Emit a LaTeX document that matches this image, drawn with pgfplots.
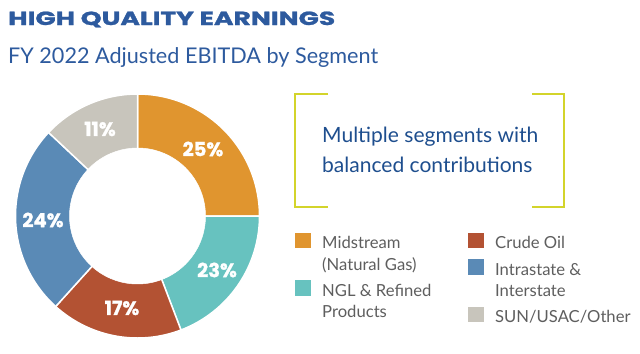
\documentclass[border=0pt]{standalone}
\usepackage{fontspec}
\setmainfont{Lato}
\newfontfamily\titlefont{Poppins}[BoldFeatures={FakeBold=1.2}]
\usepackage{graphicx}
\usepackage{pgfplots}
\pgfplotsset{compat=1.18}
\usepackage{pgfplotstable}

\definecolor{cMid}{HTML}{E0952F}
\definecolor{cNGL}{HTML}{67C2BF}
\definecolor{cCrude}{HTML}{B35233}
\definecolor{cIntra}{HTML}{5A8AB6}
\definecolor{cOther}{HTML}{C8C5BC}
\definecolor{titleblue}{HTML}{2D5A9E}
\definecolor{navy}{HTML}{1E4E8E}
\definecolor{brk}{HTML}{D3D42B}
\definecolor{legtext}{HTML}{5E5E5E}

% slice shares as drawn (percent of the ring), clockwise from 12 o'clock
\pgfplotstableread{
seg share
Midstream 25.0
NGL 19.2
Crude 17.5
Intra 25.3
Other 13.0
}\segtable

\pgfplotstablegetelem{0}{share}\of\segtable \let\sA\pgfplotsretval
\pgfplotstablegetelem{1}{share}\of\segtable \let\sB\pgfplotsretval
\pgfplotstablegetelem{2}{share}\of\segtable \let\sC\pgfplotsretval
\pgfplotstablegetelem{3}{share}\of\segtable \let\sD\pgfplotsretval
\pgfplotstablegetelem{4}{share}\of\segtable \let\sE\pgfplotsretval
\pgfmathsetmacro\aO{90}
\pgfmathsetmacro\aA{\aO-3.6*\sA}
\pgfmathsetmacro\aB{\aA-3.6*\sB}
\pgfmathsetmacro\aC{\aB-3.6*\sC}
\pgfmathsetmacro\aD{\aC-3.6*\sD}
\pgfmathsetmacro\aE{\aD-3.6*\sE}

\begin{document}
\begin{tikzpicture}[x=1bp,y=1bp]
\useasboundingbox (0,0) rectangle (640,353);

% titles
\node[anchor=base west, inner sep=0, text=titleblue] at (8,328)
  {\resizebox{327bp}{13.5bp}{\titlefont\bfseries HIGH QUALITY EARNINGS}};
\node[anchor=base west, inner sep=0, text=titleblue,
  font=\fontsize{21.7}{24}\selectfont] at (8,290) {FY 2022 Adjusted EBITDA by Segment};

\begin{axis}[hide axis, x=1bp, y=1bp, xmin=-125, xmax=125, ymin=-125, ymax=125,
  at={(137.5,137)}, anchor=origin, clip=false]
\addplot[fill=cMid, draw=white, line width=1.5bp, domain=\aA:\aO, samples=80, variable=\t]
  ({122*cos(\t)},{122*sin(\t)}) -- (0,0) -- cycle;
\addplot[fill=cNGL, draw=white, line width=1.5bp, domain=\aB:\aA, samples=80, variable=\t]
  ({122*cos(\t)},{122*sin(\t)}) -- (0,0) -- cycle;
\addplot[fill=cCrude, draw=white, line width=1.5bp, domain=\aC:\aB, samples=80, variable=\t]
  ({122*cos(\t)},{122*sin(\t)}) -- (0,0) -- cycle;
\addplot[fill=cIntra, draw=white, line width=1.5bp, domain=\aD:\aC, samples=80, variable=\t]
  ({122*cos(\t)},{122*sin(\t)}) -- (0,0) -- cycle;
\addplot[fill=cOther, draw=white, line width=1.5bp, domain=\aE:\aD, samples=80, variable=\t]
  ({122*cos(\t)},{122*sin(\t)}) -- (0,0) -- cycle;
\addplot[fill=white, draw=white, line width=0.5bp, domain=0:360, samples=160, variable=\t]
  ({68*cos(\t)},{68*sin(\t)}) -- cycle;
% value labels
\begin{scope}[every node/.style={text=white, inner sep=0,
  font=\titlefont\bfseries\fontsize{19.5}{20}\selectfont}]
\node at (axis cs:65.5,67) {25\%};
\node at (axis cs:79.5,-54) {23\%};
\node at (axis cs:-15.5,-92) {17\%};
\node at (axis cs:-94.5,-4) {24\%};
\node at (axis cs:-37.5,87) {11\%};
\end{scope}
\end{axis}

% bracket box
\draw[brk, line width=2bp] (328,259) -- (295,259) -- (295,146) -- (328,146);
\draw[brk, line width=2bp] (532,259) -- (564,259) -- (564,146) -- (532,146);
\node[anchor=base west, inner sep=0, text=navy, font=\fontsize{21.1}{24}\selectfont]
  at (322,211) {Multiple segments with};
\node[anchor=base west, inner sep=0, text=navy, font=\fontsize{21.1}{24}\selectfont]
  at (322,181) {balanced contributions};

% legend
\begin{scope}[every node/.style={anchor=base west, inner sep=0, text=legtext,
  font=\fontsize{16.7}{20}\selectfont}]
\fill[cMid] (295,105) rectangle (311,120);
\node at (322,105) {Midstream};
\node at (322,83) {(Natural Gas)};
\fill[cNGL] (295,57) rectangle (311,73);
\node at (322,57) {NGL \& Refined};
\node at (322,36) {Products};
\fill[cCrude] (468,105) rectangle (484,120);
\node at (495,105) {Crude Oil};
\fill[cIntra] (468,78) rectangle (484,94);
\node at (495,78) {Intrastate \&};
\node at (495,57) {Interstate};
\fill[cOther] (468,31) rectangle (484,46);
\node at (495,31) {SUN/USAC/Other};
\end{scope}
\end{tikzpicture}
\end{document}
